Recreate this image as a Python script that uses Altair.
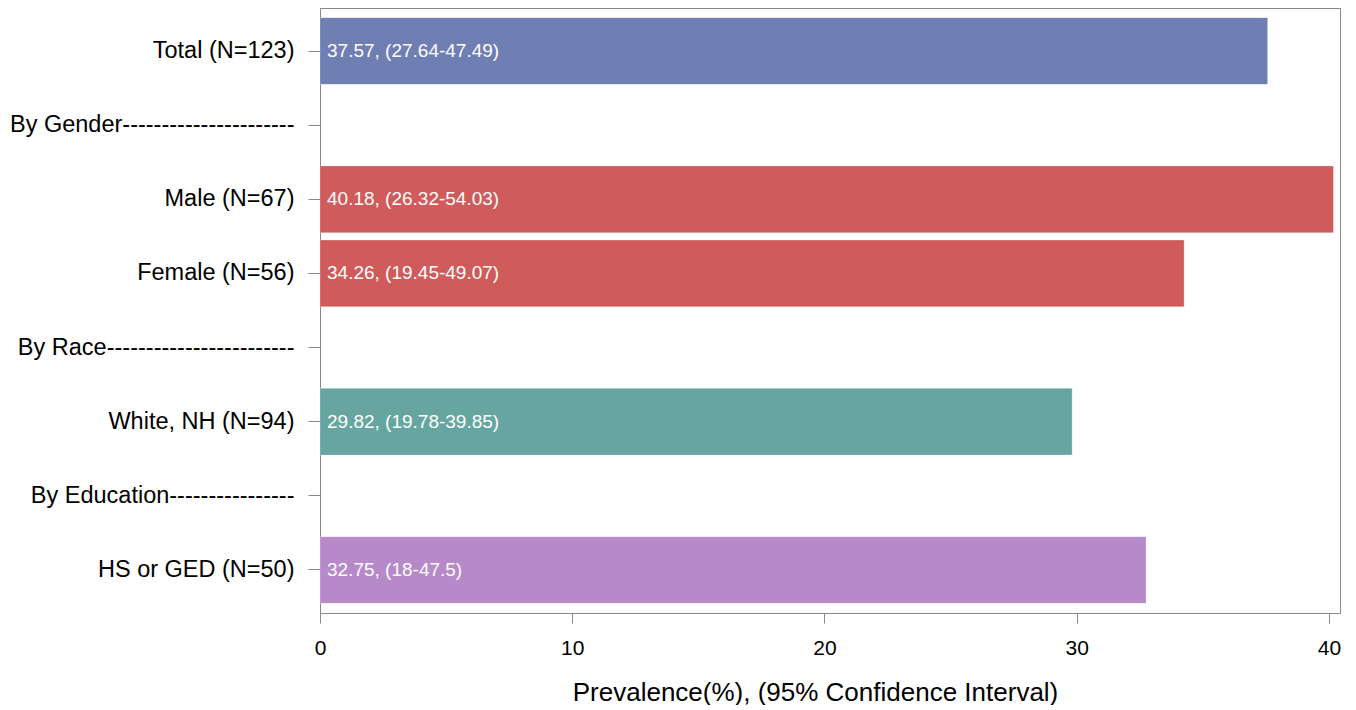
import altair as alt
import pandas as pd

categories = [
    "Total (N=123)",
    "By Gender" + "-" * 22,
    "Male (N=67)",
    "Female (N=56)",
    "By Race" + "-" * 24,
    "White, NH (N=94)",
    "By Education" + "-" * 16,
    "HS or GED (N=50)",
]
values = [37.57, None, 40.18, 34.26, None, 29.82, None, 32.75]
bar_labels = [
    "37.57, (27.64-47.49)", "", "40.18, (26.32-54.03)", "34.26, (19.45-49.07)",
    "", "29.82, (19.78-39.85)", "", "32.75, (18-47.5)",
]
groups = ["Total", "", "Gender", "Gender", "", "Race", "", "Education"]
group_names = ["Total", "Gender", "Race", "Education"]
group_colors = ["#6F7EB3", "#D05B5B", "#66A5A0", "#B689C9"]

df = pd.DataFrame({"cat": categories, "value": values, "label": bar_labels, "group": groups})

FONT = "Liberation Sans"

y = alt.Y(
    "cat:N",
    sort=categories,
    scale=alt.Scale(domain=categories, paddingInner=0.1, paddingOuter=0.13),
    axis=alt.Axis(
        title=None, labelFontSize=23.5, labelColor="black", labelFont=FONT,
        tickSize=12, tickColor="#888888", domainColor="#888888",
        labelPadding=14, labelLimit=400, minExtent=306, maxExtent=306,
    ),
)
x = alt.X(
    "value:Q",
    scale=alt.Scale(domain=[0, 40.44], nice=False, zero=True),
    axis=alt.Axis(
        values=[0, 10, 20, 30, 40], title="Prevalence(%), (95% Confidence Interval)",
        labelFontSize=21, labelColor="black", labelFont=FONT, labelPadding=14,
        labelFlush=False,
        tickSize=10, tickColor="#888888", domainColor="#888888", grid=False,
        titleFontSize=26, titleFont=FONT, titleFontWeight="normal", titleColor="black",
        titlePadding=21, titleX=495, titleAlign="center",
    ),
)

base = alt.Chart(df)
bars = base.transform_filter("datum.value != null").mark_bar(
    stroke="white", strokeWidth=0.5, strokeOpacity=0.5
).encode(
    y=y, x=x,
    color=alt.Color("group:N", scale=alt.Scale(domain=group_names, range=group_colors), legend=None),
)
text = base.transform_filter("datum.value != null").mark_text(
    align="left", baseline="middle", dx=7, color="white", fontSize=19, font=FONT
).encode(y=alt.Y("cat:N", sort=categories), x=alt.datum(0), text="label:N")

chart = (bars + text).properties(
    width=1020, height=605,
    padding={"left": 1, "top": 0, "right": 5, "bottom": 0},
).configure_view(stroke="#888888", strokeWidth=1).configure_axis(grid=False)

chart.save("out.html", embed_options={"renderer": "svg", "actions": False})
